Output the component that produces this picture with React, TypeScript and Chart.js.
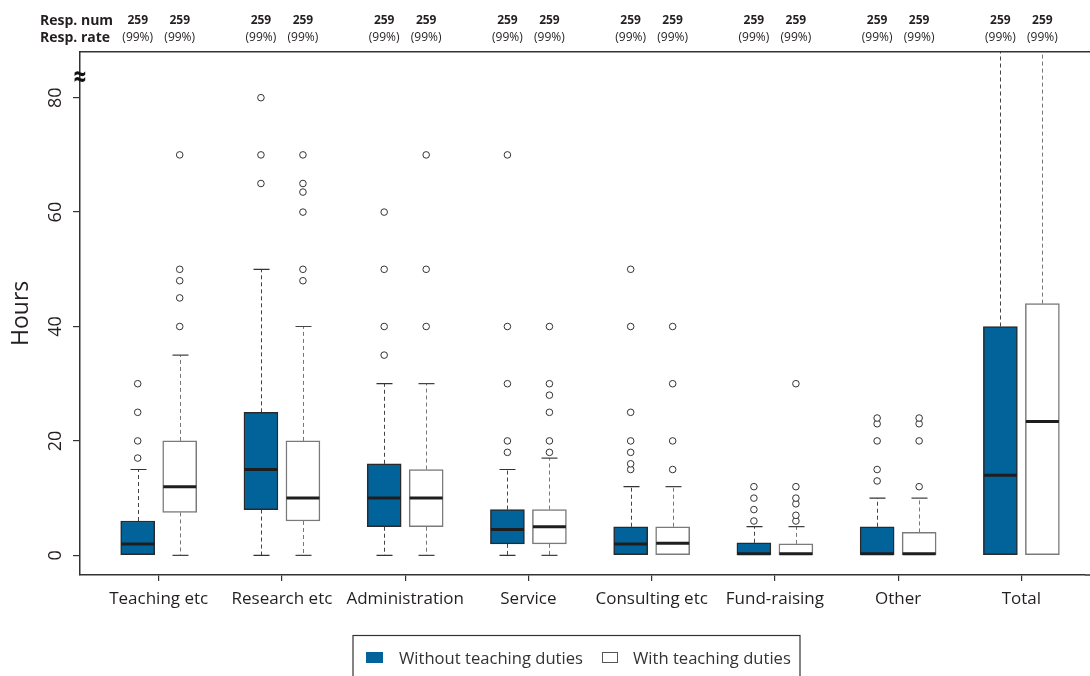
import React, { useEffect, useRef } from 'react';
import { Chart, registerables } from 'chart.js';

Chart.register(...registerables);

const categories = ['Teaching etc', 'Research etc', 'Administration', 'Service', 'Consulting etc', 'Fund-raising', 'Other', 'Total'];
const seriesNames = ['Without teaching duties', 'With teaching duties'];
const yTickValues = [0, 20, 40, 60, 80];
const respNumWithout = [259, 259, 259, 259, 259, 259, 259, 259];
const respNumWith = [259, 259, 259, 259, 259, 259, 259, 259];
const respRateWithout = ['(99%)', '(99%)', '(99%)', '(99%)', '(99%)', '(99%)', '(99%)', '(99%)'];
const respRateWith = ['(99%)', '(99%)', '(99%)', '(99%)', '(99%)', '(99%)', '(99%)', '(99%)'];

// [lower whisker, Q1, median, Q3, upper whisker]
const withoutStats = [
  [0, 0, 2, 6, 15],
  [0, 8, 15, 25, 50],
  [0, 5, 10, 16, 30],
  [0, 2, 4.5, 8, 15],
  [0, 0, 2, 5, 12],
  [0, 0, 0, 2.2, 5],
  [0, 0, 0, 5, 10],
  [0, 0, 14, 40, 100],
];
const withStats = [
  [0, 7.5, 12, 20, 35],
  [0, 6, 10, 20, 40],
  [0, 5, 10, 15, 30],
  [0, 2, 5, 8, 17],
  [0, 0, 2.1, 5, 12],
  [0, 0, 0, 2, 5],
  [0, 0, 0, 4, 10],
  [0, 0, 23.4, 44, 100],
];
const withoutOutliers = [
  [17, 20, 25, 30],
  [65, 70, 80],
  [35, 40, 50, 60],
  [18, 20, 30, 40, 70],
  [15, 16, 18, 20, 25, 40, 50],
  [6, 8, 10, 12],
  [13, 15, 20, 23, 24],
  [],
];
const withOutliers = [
  [40, 45, 48, 50, 70],
  [48, 50, 60, 63.5, 65, 70],
  [40, 50, 70],
  [18, 20, 25, 28, 30, 40],
  [15, 20, 30, 40],
  [6, 7, 9, 10, 12, 30],
  [12, 20, 23, 24],
  [],
];

const FONT = "'Open Sans', 'Noto Sans', sans-serif";
const BLUE = '#02639a';
const TEXT = '#231f20';
const OFF = 0.1704; // half distance between paired boxes, in category units
const BOX_W = 34;
const CAP_W = 16;
const CAT_PX = 123.24; // pixel width of one category slot
const FIRST_CAT_PX = 158.7; // pixel position of first category centre

const seriesStats = [withoutStats, withStats];
const seriesStyle = [
  { fill: BLUE, border: '#2a2a2a', whisker: '#444', cap: '#333' },
  { fill: '#ffffff', border: '#7a7a7a', whisker: '#777', cap: '#444' },
];
const xPos = (i: number, s: number) => i + (s === 0 ? -OFF : OFF);

const boxPlugin = {
  id: 'boxParts',
  beforeDatasetsDraw(chart: any) {
    const { ctx, chartArea: a, scales } = chart;
    const x = scales.x, y = scales.y;
    ctx.save();
    ctx.beginPath();
    ctx.rect(a.left, a.top, a.right - a.left, a.bottom - a.top);
    ctx.clip();
    seriesStats.forEach((stats, s) => {
      stats.forEach((st, i) => {
        const px = Math.round(x.getPixelForValue(xPos(i, s))) + 0.5;
        const [lo, q1, , q3, hi] = st;
        ctx.lineWidth = 1;
        ctx.strokeStyle = seriesStyle[s].whisker;
        ctx.setLineDash([4, 3]);
        ctx.beginPath();
        if (hi > q3) {
          ctx.moveTo(px, y.getPixelForValue(q3));
          ctx.lineTo(px, y.getPixelForValue(hi));
        }
        if (lo < q1) {
          ctx.moveTo(px, y.getPixelForValue(q1));
          ctx.lineTo(px, y.getPixelForValue(lo));
        }
        ctx.stroke();
        ctx.setLineDash([]);
        ctx.strokeStyle = seriesStyle[s].cap;
        ctx.lineWidth = 1.2;
        ctx.beginPath();
        if (hi > q3) {
          const yy = y.getPixelForValue(hi);
          ctx.moveTo(px - CAP_W / 2, yy);
          ctx.lineTo(px + CAP_W / 2, yy);
        }
        if (lo < q1) {
          const yy = y.getPixelForValue(lo);
          ctx.moveTo(px - CAP_W / 2, yy);
          ctx.lineTo(px + CAP_W / 2, yy);
        }
        ctx.stroke();
      });
    });
    ctx.restore();
  },
  afterDatasetsDraw(chart: any) {
    const { ctx, scales } = chart;
    const x = scales.x, y = scales.y;
    ctx.save();
    ctx.strokeStyle = '#1e1e1e';
    ctx.lineWidth = 3;
    seriesStats.forEach((stats, s) => {
      stats.forEach((st, i) => {
        const px = x.getPixelForValue(xPos(i, s));
        let my = y.getPixelForValue(st[2]);
        const bottom = y.getPixelForValue(st[1]);
        if (my > bottom - 1.5) my = bottom - 1.5;
        ctx.beginPath();
        ctx.moveTo(px - BOX_W / 2 + 0.5, my);
        ctx.lineTo(px + BOX_W / 2 - 0.5, my);
        ctx.stroke();
      });
    });
    ctx.restore();
  },
  afterDraw(chart: any) {
    const { ctx, chartArea: a, scales } = chart;
    const x = scales.x, y = scales.y;
    ctx.save();
    // top frame line
    ctx.strokeStyle = '#333';
    ctx.lineWidth = 1.5;
    ctx.beginPath();
    ctx.moveTo(a.left, a.top);
    ctx.lineTo(chart.width, a.top);
    ctx.stroke();
    // extend bottom axis line to canvas edge
    ctx.beginPath();
    ctx.moveTo(a.right, a.bottom);
    ctx.lineTo(chart.width, a.bottom);
    ctx.stroke();

    // header
    ctx.fillStyle = TEXT;
    ctx.textBaseline = 'middle';
    ctx.textAlign = 'left';
    ctx.font = `bold 14px ${FONT}`;
    ctx.fillText('Resp. num', 40, 21);
    ctx.fillText('Resp. rate', 40, 38);
    ctx.textAlign = 'center';
    categories.forEach((_, i) => {
      [0, 1].forEach((s) => {
        const px = x.getPixelForValue(xPos(i, s));
        ctx.font = `bold 12px ${FONT}`;
        ctx.fillText(String((s === 0 ? respNumWithout : respNumWith)[i]), px, 21);
        ctx.font = `12px ${FONT}`;
        ctx.fillText((s === 0 ? respRateWithout : respRateWith)[i], px, 38);
      });
    });

    // rotated y tick labels
    ctx.font = `18px ${FONT}`;
    ctx.fillStyle = TEXT;
    yTickValues.forEach((v) => {
      const py = y.getPixelForValue(v);
      ctx.save();
      ctx.translate(56, py);
      ctx.rotate(-Math.PI / 2);
      ctx.textAlign = 'center';
      ctx.textBaseline = 'middle';
      ctx.fillText(String(v), 0, 0);
      ctx.restore();
    });

    // axis break symbol
    ctx.save();
    ctx.font = `bold 22px ${FONT}`;
    ctx.textAlign = 'center';
    ctx.textBaseline = 'middle';
    ctx.fillStyle = '#111';
    ctx.translate(a.left, 79);
    ctx.scale(1, 1.35);
    ctx.fillText('\u2248', 0, 0);
    ctx.restore();

    // legend
    const lx = 353, ly = 635.5;
    ctx.strokeStyle = '#333';
    ctx.lineWidth = 1.2;
    ctx.strokeRect(lx, ly, 447, 60);
    ctx.fillStyle = BLUE;
    ctx.fillRect(366, 652, 17, 11);
    ctx.fillStyle = '#fff';
    ctx.strokeStyle = '#555';
    ctx.lineWidth = 1;
    ctx.fillRect(602.5, 652.5, 15, 10);
    ctx.strokeRect(602.5, 652.5, 15, 10);
    ctx.fillStyle = '#333';
    ctx.font = `16.6px ${FONT}`;
    ctx.textAlign = 'left';
    ctx.textBaseline = 'middle';
    ctx.fillText(seriesNames[0], 399, 659);
    ctx.fillText(seriesNames[1], 633, 659);
    ctx.restore();
  },
};

export default function App() {
  const ref = useRef<HTMLCanvasElement>(null);
  useEffect(() => {
    document.body.style.margin = '0';
    const canvas = ref.current;
    if (!canvas) return;
    const boxData = (s: number) =>
      seriesStats[s].map((st, i) => ({ x: xPos(i, s), y: [st[1], st[3]] }));
    const outData = (s: number) =>
      (s === 0 ? withoutOutliers : withOutliers).flatMap((vals, i) => vals.map((v) => ({ x: xPos(i, s), y: v })));
    const chart = new Chart(canvas, {
      type: 'bar',
      data: {
        datasets: [
          {
            type: 'bar',
            label: seriesNames[0],
            data: boxData(0) as any,
            backgroundColor: seriesStyle[0].fill,
            borderColor: seriesStyle[0].border,
            borderWidth: 1.5,
            borderSkipped: false,
            barThickness: BOX_W,
            grouped: false,
          } as any,
          {
            type: 'bar',
            label: seriesNames[1],
            data: boxData(1) as any,
            backgroundColor: seriesStyle[1].fill,
            borderColor: seriesStyle[1].border,
            borderWidth: 1.5,
            borderSkipped: false,
            barThickness: BOX_W,
            grouped: false,
          } as any,
          {
            type: 'scatter',
            label: seriesNames[0] + ' outliers',
            data: outData(0) as any,
            pointRadius: 3.3,
            pointBorderWidth: 1,
            borderColor: '#333',
            backgroundColor: '#fff',
          } as any,
          {
            type: 'scatter',
            label: seriesNames[1] + ' outliers',
            data: outData(1) as any,
            pointRadius: 3.3,
            pointBorderWidth: 1,
            borderColor: '#333',
            backgroundColor: '#fff',
          } as any,
        ],
      },
      options: {
        responsive: false,
        animation: false,
        layout: { padding: { left: 0, top: 51.7, right: 0, bottom: 51 } },
        plugins: { legend: { display: false }, tooltip: { enabled: false } },
        scales: {
          x: {
            type: 'linear',
            offset: false,
            min: -0.6386,
            max: 7.557,
            afterBuildTicks: (s: any) => {
              s.ticks = categories.map((_, i) => ({ value: i }));
            },
            afterFit: (s: any) => {
              s.height = 50;
              s.paddingLeft = 0;
              s.paddingRight = 0;
            },
            ticks: {
              callback: (v: any) => categories[v as number] ?? '',
              font: { family: FONT, size: 17 },
              color: TEXT,
              maxRotation: 0,
              minRotation: 0,
              autoSkip: false,
              padding: 8,
            },
            grid: { display: true, offset: false, drawOnChartArea: false, drawTicks: true, tickLength: 6, color: '#333', lineWidth: 1.2 },
            border: { display: true, color: '#333', width: 1.5 },
          },
          y: {
            type: 'linear',
            min: -3.44,
            max: 88.04,
            afterBuildTicks: (s: any) => {
              s.ticks = yTickValues.map((v) => ({ value: v }));
            },
            afterFit: (s: any) => {
              s.width = 80;
              s.paddingTop = 0;
              s.paddingBottom = 0;
            },
            ticks: { display: false },
            grid: { display: true, drawOnChartArea: false, drawTicks: true, tickLength: 7, color: '#333', lineWidth: 1.2 },
            border: { display: true, color: '#333', width: 1.5 },
            title: {
              display: true,
              text: 'Hours',
              font: { family: FONT, size: 23 },
              color: TEXT,
              padding: { top: 8, bottom: 0 },
            },
          },
        },
      } as any,
      plugins: [boxPlugin],
    });
    // align the category slots with the reference layout, whatever chart area the layout produced
    const a = chart.chartArea;
    const xOpts: any = (chart.options as any).scales.x;
    xOpts.min = -(FIRST_CAT_PX - a.left) / CAT_PX;
    xOpts.max = (a.right - FIRST_CAT_PX) / CAT_PX;
    chart.update();
    return () => chart.destroy();
  }, []);
  return (
    <div style={{ width: 1090, height: 676 }}>
      <canvas ref={ref} width={1090} height={676} style={{ display: 'block' }} />
    </div>
  );
}
